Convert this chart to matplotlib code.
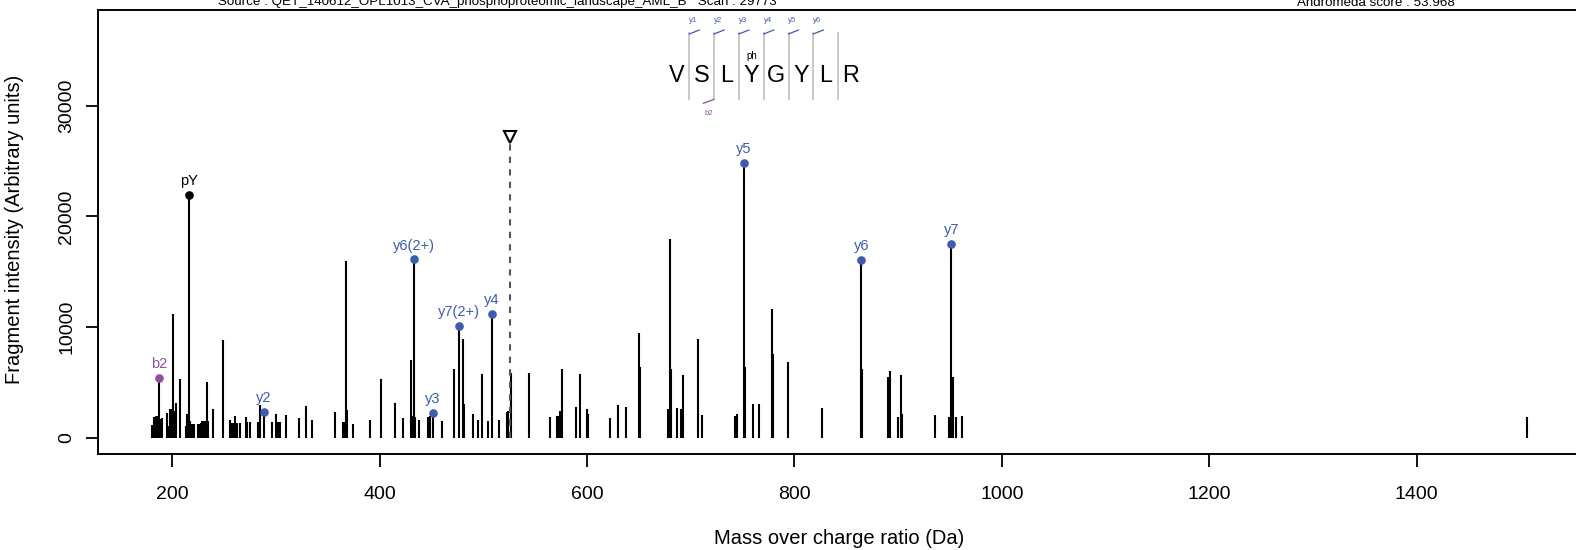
import matplotlib
matplotlib.use('Agg')
from matplotlib import pyplot as plt

plt.rcParams['font.family'] = ['Liberation Sans', 'DejaVu Sans']

# unannotated fragment peaks (m/z, intensity)
peak_mz = [180.7, 182.0, 183.3, 184.5, 185.8, 188.4, 189.7, 194.8, 196.1, 198.1,
           199.3, 200.6, 201.9, 203.9, 207.1, 212.9, 214.1, 217.4, 218.7, 221.2,
           225.1, 226.4, 227.7, 228.9, 230.9, 232.2, 233.4, 234.7, 239.2, 248.9,
           256.0, 257.3, 258.5, 260.5, 262.4, 265.0, 270.8, 272.0, 275.3, 283.0,
           284.3, 296.5, 300.4, 302.3, 304.2, 310.0, 322.2, 328.7, 334.5, 356.7,
           364.7, 366.0, 367.0, 368.3, 374.0, 391.1, 401.7, 414.3, 422.9, 430.0,
           431.3, 433.9, 437.7, 446.7, 448.3, 460.3, 471.2, 480.2, 481.5, 490.2,
           494.4, 498.2, 504.0, 515.0, 522.4, 523.6, 526.2, 544.2, 564.2, 571.2,
           572.5, 573.8, 575.4, 589.3, 593.1, 600.2, 601.2, 622.1, 629.5, 637.2,
           650.1, 651.0, 678.4, 680.0, 681.2, 686.4, 690.9, 692.9, 707.3, 710.5,
           742.7, 744.3, 752.7, 760.4, 765.5, 778.4, 779.7, 793.6, 826.7, 865.4,
           890.7, 891.7, 899.7, 902.6, 904.2, 935.8, 949.0, 951.0, 953.0, 955.7,
           961.5, 1506.8]
peak_int = [1150, 1870, 1870, 1960, 1960, 1660, 1810, 2200, 1060, 2560,
            2630, 11220, 2410, 3170, 5280, 1060, 2110, 1510, 1210, 1210,
            1270, 1270, 1360, 1510, 1510, 1510, 5040, 1510, 2630, 8810,
            1570, 1360, 1360, 1960, 1360, 1360, 1870, 1420, 1420, 1420,
            2930, 1420, 2110, 1420, 1420, 2020, 1750, 2870, 1570, 2350,
            1450, 1450, 15930, 2470, 1210, 1600, 5280, 3140, 1810, 7000,
            1960, 1900, 1570, 1900, 1960, 1510, 6190, 8960, 3020, 2110,
            1570, 5800, 1510, 1570, 2320, 2410, 5820, 5820, 1870, 1960,
            1960, 2410, 6190, 2810, 5730, 2560, 2170, 1750, 2960, 2810,
            9500, 6400, 2560, 17950, 6190, 2660, 2630, 5640, 8960, 2020,
            1960, 2110, 6430, 3020, 3020, 11650, 7540, 6820, 2720, 6190,
            5460, 6030, 1900, 5670, 2110, 2020, 1900, 1900, 5460, 1900,
            1960, 1900]

# annotated fragment ions
ion_labels = ['b2', 'pY', 'y2', 'y6(2+)', 'y3', 'y7(2+)', 'y4', 'y5', 'y6', 'y7']
ion_mz = [187.07, 216.04, 288.20, 432.71, 451.27, 476.22, 508.29, 751.30, 864.38, 951.41]
ion_int = [5430, 21960, 2350, 16110, 2260, 10110, 11220, 24830, 16080, 17500]
ion_types = ['b', 'imm', 'y', 'y', 'y', 'y', 'y', 'y', 'y', 'y']

precursor_mz = 525.74
precursor_mark = 27170

sequence = ['V', 'S', 'L', 'Y', 'G', 'Y', 'L', 'R']
y_cuts = ['y1', 'y2', 'y3', 'y4', 'y5', 'y6']
b_cuts = {1: 'b2'}
mod_pos = {3: 'ph'}

source_txt = 'Source : QET_140612_OPL1013_CVA_phosphoproteomic_landscape_AML_B   Scan : 29773'
score_txt = 'Andromeda score : 53.968'

blue = '#3D5CAD'
purple = '#8E50A0'
type_color = {'b': purple, 'y': blue, 'imm': 'black'}

W, H = 1576, 550
fig = plt.figure(figsize=(W / 100, H / 100), dpi=100)
ax = fig.add_axes([97.7 / W, 1 - 454 / H, (1581 - 97.7) / W, (454 - 10) / H])

ax.vlines(peak_mz, 0, peak_int, color='black', lw=1.5)
ax.vlines(ion_mz, 0, ion_int, color='black', lw=1.5)
for lab, mz, it, t in zip(ion_labels, ion_mz, ion_int, ion_types):
    c = type_color[t]
    ax.plot(mz, it, 'o', color=c, ms=5.2, zorder=3)
    ax.annotate(lab, (mz, it), xytext=(0, 5), textcoords='offset points',
                ha='center', va='bottom', color=c, fontsize=10.5)

ax.plot([precursor_mz, precursor_mz], [0, precursor_mark - 600], color='#555555',
        lw=1.5, linestyle=(0, (3, 3)))
ax.plot(precursor_mz, precursor_mark, 'v', ms=9, mfc='white', mec='black', mew=1.5)

ax.set_xlim(128.0, 1558.6)
ax.set_ylim(-1463, 38645)
ax.set_xticks([200, 400, 600, 800, 1000, 1200, 1400])
ax.set_yticks([0, 10000, 20000, 30000])
ax.set_yticklabels(['0', '10000', '20000', '30000'], rotation=90, va='center')
ax.tick_params(axis='both', length=9, width=1.3, labelsize=14)
ax.tick_params(axis='x', pad=14)
ax.tick_params(axis='y', pad=7)
for s in ax.spines.values():
    s.set_linewidth(1.4)

fig.text(839 / W, 1 - 538 / H, 'Mass over charge ratio (Da)', ha='center', va='center', fontsize=14.5)
fig.text(15 / W, 1 - 229 / H, 'Fragment intensity (Arbitrary units)', ha='center', va='center',
         rotation=90, fontsize=14.5)

fig.text(497.5 / W, 1 - 5.5 / H, source_txt, ha='center', va='baseline', fontsize=9.6)
fig.text(1376 / W, 1 - 5.5 / H, score_txt, ha='center', va='baseline', fontsize=9.6)

# peptide sequence sketch
sep0, step = 689.3, 24.8
for i, aa in enumerate(sequence):
    x = sep0 - step / 2 + i * step
    fig.text(x / W, 1 - 81.7 / H, aa, ha='center', va='baseline', fontsize=16.8)
    if i in mod_pos:
        fig.text(x / W, 1 - 56 / H, mod_pos[i], ha='center', va='center', fontsize=7)
for i in range(len(sequence) - 1):
    x = sep0 + i * step
    fig.add_artist(plt.Line2D([x / W, x / W], [1 - 33.3 / H, 1 - 99.3 / H],
                              color='#C8C8C8', lw=1.4))
for i, lab in enumerate(y_cuts):
    x = sep0 + i * step
    fig.add_artist(plt.Line2D([x / W, (x + 10) / W], [1 - 34 / H, 1 - 30 / H], color=blue, lw=0.9))
    fig.text((x + 4) / W, 1 - 20 / H, lab, ha='center', va='center', fontsize=5.6, color=blue)
for i, lab in b_cuts.items():
    x = sep0 + i * step
    fig.add_artist(plt.Line2D([x / W, (x - 10.7) / W], [1 - 99.3 / H, 1 - 103.3 / H], color=purple, lw=0.9))
    fig.text((x - 5.7) / W, 1 - 113.3 / H, lab, ha='center', va='center', fontsize=5.6, color=purple)

fig.savefig('out.png', dpi=100)
